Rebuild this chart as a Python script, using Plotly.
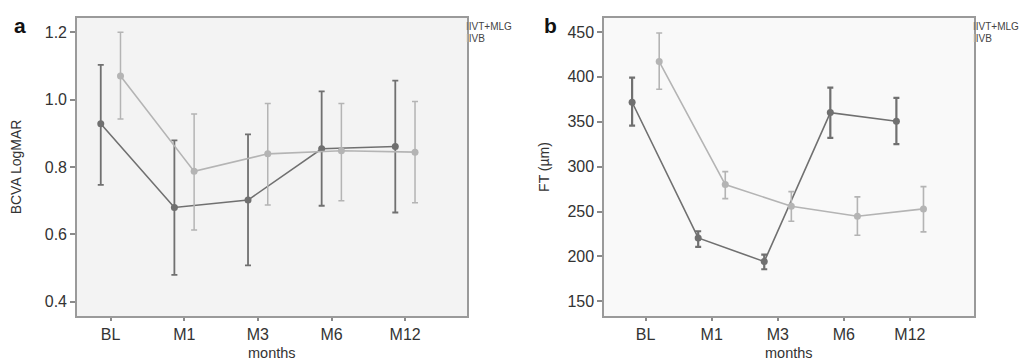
import plotly.graph_objects as go

months = ["BL", "M1", "M3", "M6", "M12"]
xpos = [0, 1, 2, 3, 4]

# Panel a: BCVA LogMAR
a_ivt_mean = [0.928, 0.680, 0.702, 0.854, 0.861]
a_ivt_up = [1.103, 0.879, 0.897, 1.024, 1.056]
a_ivt_lo = [0.747, 0.480, 0.508, 0.685, 0.665]
a_ivb_mean = [1.070, 0.787, 0.839, 0.848, 0.844]
a_ivb_up = [1.200, 0.957, 0.988, 0.988, 0.994]
a_ivb_lo = [0.942, 0.613, 0.687, 0.700, 0.694]

# Panel b: FT (µm)
b_ivt_mean = [371.7, 220.6, 194.2, 360.2, 350.5]
b_ivt_up = [399.1, 228.0, 202.0, 388.0, 376.5]
b_ivt_lo = [345.7, 210.6, 185.7, 332.0, 325.0]
b_ivb_mean = [417.0, 280.0, 255.9, 244.7, 252.9]
b_ivb_up = [448.9, 294.4, 272.2, 266.3, 277.7]
b_ivb_lo = [386.2, 264.4, 239.2, 223.6, 227.3]

DARK = "#707070"
LIGHT = "#b4b4b4"
FONT = "Liberation Sans, Arial, sans-serif"

fig = go.Figure()


def add(xs, off, mean, up, lo, color, xa, ya, thick):
    fig.add_trace(go.Scatter(
        x=[x + off for x in xs], y=mean, mode="lines+markers",
        line=dict(color=color, width=1.6),
        marker=dict(color=color, size=7, symbol="circle"),
        error_y=dict(type="data", symmetric=False,
                     array=[u - m for u, m in zip(up, mean)],
                     arrayminus=[m - l for m, l in zip(mean, lo)],
                     color=color, thickness=thick, width=3),
        xaxis=xa, yaxis=ya, showlegend=False, hoverinfo="skip"))


add(xpos, -0.134, a_ivt_mean, a_ivt_up, a_ivt_lo, DARK, "x", "y", 1.8)
add(xpos, 0.134, a_ivb_mean, a_ivb_up, a_ivb_lo, LIGHT, "x", "y", 1.5)
add(xpos, -0.205, b_ivt_mean, b_ivt_up, b_ivt_lo, DARK, "x2", "y2", 2.2)
add(xpos, 0.205, b_ivb_mean, b_ivb_up, b_ivb_lo, LIGHT, "x2", "y2", 1.6)

ax_common = dict(showline=True, linecolor="#9a9a9a", linewidth=1.5, mirror=True,
                 showgrid=False, zeroline=False, ticks="outside",
                 tickcolor="#8a8a8a", tickwidth=1.5,
                 tickfont=dict(family=FONT, size=16, color="#333333"))

fig.update_layout(
    width=1028, height=363,
    margin=dict(l=0, r=0, t=0, b=0),
    paper_bgcolor="white",
    plot_bgcolor="#f3f3f3",
    font=dict(family=FONT, color="#333333"),
    xaxis=dict(domain=[0.0671, 0.4465], range=[-0.457, 4.84], ticklen=3,
               tickvals=xpos, ticktext=months, **ax_common),
    yaxis=dict(domain=[0.1515, 0.9725], range=[0.358, 1.242], ticklen=5,
               tickvals=[0.4, 0.6, 0.8, 1.0, 1.2], ticktext=["0.4", "0.6", "0.8", "1.0", "1.2"],
               title=dict(text="BCVA LogMAR", font=dict(size=14, family=FONT), standoff=20),
               **ax_common),
    xaxis2=dict(domain=[0.5798, 0.9397], range=[-0.630, 4.97], anchor="y2", ticklen=3,
                tickvals=xpos, ticktext=months, **ax_common),
    yaxis2=dict(domain=[0.1515, 0.9725], range=[133.6, 465.6], anchor="x2", ticklen=5,
                tickvals=[150, 200, 250, 300, 350, 400, 450],
                title=dict(text="FT (µm)", font=dict(size=14, family=FONT), standoff=14),
                **ax_common),
)

# panel b background (lighter)
fig.add_shape(type="rect", xref="x2 domain", yref="y2 domain", x0=0, x1=1, y0=0, y1=1,
              fillcolor="#f9f9f9", line=dict(width=0), layer="below")

# x-axis titles
for xc in ((0.0671 + 0.4465) / 2, (0.5798 + 0.9397) / 2):
    fig.add_annotation(text="months", x=xc, y=1 - 345 / 363, xref="paper", yref="paper",
                       xanchor="center", yanchor="middle", showarrow=False, borderpad=0,
                       font=dict(family=FONT, size=14.5, color="#333333"))

# panel letters
fig.add_annotation(text="<b>a</b>", x=0.004, y=0.99, xref="paper", yref="paper",
                   xanchor="left", yanchor="top", showarrow=False,
                   font=dict(family=FONT, size=21, color="#111111"))
fig.add_annotation(text="<b>b</b>", x=0.519, y=0.99, xref="paper", yref="paper",
                   xanchor="left", yanchor="top", showarrow=False,
                   font=dict(family=FONT, size=21, color="#111111"))

# legends
ICON = "<span style='color:%s'>I</span>"
for xl in (457 / 1028, 964 / 1028):
    fig.add_annotation(text=(ICON % DARK) + "IVT+MLG",
                       x=xl, y=1 - 12 / 363, xref="paper", yref="paper", xanchor="left", yanchor="top",
                       showarrow=False, borderpad=0,
                       font=dict(family=FONT, size=10, color="#444444"))
    fig.add_annotation(text=(ICON % LIGHT) + "IVB",
                       x=xl, y=1 - 24 / 363, xref="paper", yref="paper", xanchor="left", yanchor="top",
                       showarrow=False, borderpad=0,
                       font=dict(family=FONT, size=10, color="#444444"))

fig.write_html("out.html")
